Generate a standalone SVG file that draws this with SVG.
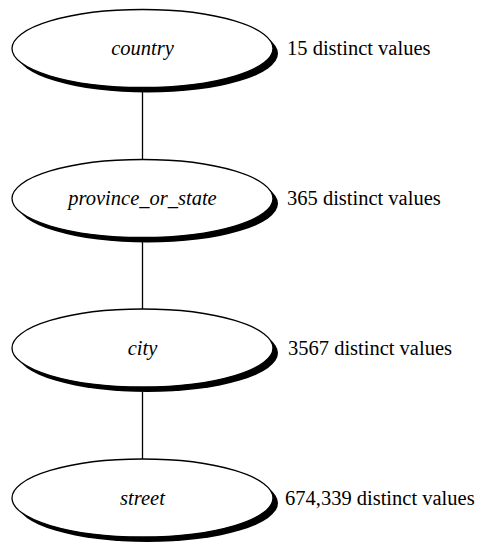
<svg xmlns="http://www.w3.org/2000/svg" width="485" height="542" viewBox="0 0 485 542">
<style>
.sh{fill:#000;stroke:none}
.el{fill:#fff;stroke:#000;stroke-width:1.3}
.nl{font-family:'Liberation Serif','Times New Roman','DejaVu Serif',serif;font-style:italic;font-size:20.5px;text-anchor:middle;fill:#000}
.vl{font-family:'Liberation Serif','Times New Roman','DejaVu Serif',serif;font-size:20.5px;fill:#000}
.cn{stroke:#000;stroke-width:1.3;fill:none}
</style>
<rect width="485" height="542" fill="#fff"/>
<g id="connectors">
<line class="cn" x1="142.5" y1="92" x2="142.5" y2="160"/>
<line class="cn" x1="142.5" y1="242" x2="142.5" y2="310"/>
<line class="cn" x1="142.5" y1="392" x2="142.5" y2="460"/>
</g>
<g id="country">
<ellipse class="sh" cx="147.5" cy="53.5" rx="130.5" ry="39"/>
<ellipse class="el" cx="142.5" cy="48.5" rx="130.5" ry="39"/>
<text class="nl" x="142.5" y="55">country</text>
<text class="vl" x="287" y="55">15 distinct values</text>
</g>
<g id="province_or_state">
<ellipse class="sh" cx="147.5" cy="203.5" rx="130.5" ry="39"/>
<ellipse class="el" cx="142.5" cy="198.5" rx="130.5" ry="39"/>
<text class="nl" x="142.5" y="205">province_or_state</text>
<text class="vl" x="287" y="205">365 distinct values</text>
</g>
<g id="city">
<ellipse class="sh" cx="147.5" cy="353" rx="130.5" ry="39"/>
<ellipse class="el" cx="142.5" cy="348" rx="130.5" ry="39"/>
<text class="nl" x="142.5" y="355">city</text>
<text class="vl" x="288" y="355">3567 distinct values</text>
</g>
<g id="street">
<ellipse class="sh" cx="147.5" cy="503" rx="130.5" ry="39"/>
<ellipse class="el" cx="142.5" cy="498" rx="130.5" ry="39"/>
<text class="nl" x="142.5" y="505">street</text>
<text class="vl" x="285" y="505">674,339 distinct values</text>
</g>
</svg>
